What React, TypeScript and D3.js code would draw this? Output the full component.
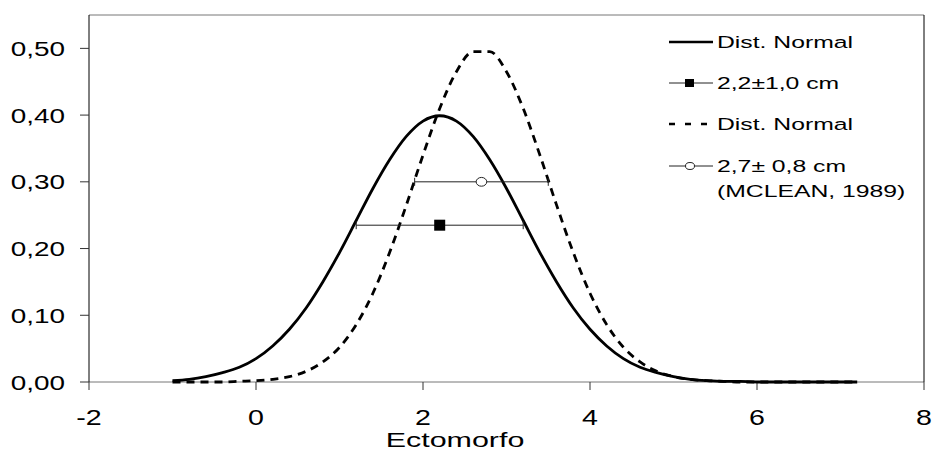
import React, { useRef, useEffect } from 'react';
import * as d3 from 'd3';

// x grid of the fitted curves (Ectomorfo)
const xGrid = [-1.0, -0.8, -0.6, -0.4, -0.2, 0.0, 0.2, 0.4, 0.6, 0.8, 1.0, 1.2, 1.4, 1.6, 1.8, 2.0, 2.2, 2.4, 2.6, 2.8, 3.0,
  3.2, 3.4, 3.6, 3.8, 4.0, 4.2, 4.4, 4.6, 4.8, 5.0, 5.2, 5.4, 5.6, 5.8, 6.0, 6.2, 6.4, 6.6, 6.8, 7.0, 7.2];

// solid curve (2,2 ± 1,0)
const normalSample = [0.002, 0.004, 0.008, 0.014, 0.022, 0.035, 0.054, 0.079, 0.111, 0.150, 0.194, 0.242, 0.290, 0.333,
  0.368, 0.391, 0.399, 0.391, 0.368, 0.333, 0.290, 0.242, 0.194, 0.150, 0.111, 0.079, 0.054, 0.035, 0.022, 0.014, 0.008,
  0.004, 0.002, 0.001, 0.001, 0.000, 0.000, 0.000, 0.000, 0.000, 0.000, 0.000];

// dashed curve (2,7 ± 0,8, McLean 1989)
const normalMclean = [0.000, 0.000, 0.000, 0.000, 0.001, 0.002, 0.004, 0.008, 0.016, 0.030, 0.052, 0.086, 0.133, 0.194,
  0.265, 0.340, 0.410, 0.465, 0.495, 0.495, 0.465, 0.410, 0.340, 0.265, 0.194, 0.133, 0.086, 0.052, 0.030, 0.016, 0.008,
  0.004, 0.002, 0.001, 0.000, 0.000, 0.000, 0.000, 0.000, 0.000, 0.000, 0.000];

// mean ± sd markers
const markerMeans = [2.2, 2.7];
const markerSds = [1.0, 0.8];
const markerLevels = [0.235, 0.30];

const xTicks = [-2, 0, 2, 4, 6, 8];
const yTicks = [0, 0.1, 0.2, 0.3, 0.4, 0.5];
const legendLabels = ['Dist. Normal', '2,2±1,0 cm', 'Dist. Normal', '2,7± 0,8 cm', '(MCLEAN, 1989)'];

const W = 934, H = 452;
const margin = { top: 15, right: 10, bottom: 70, left: 89 };
const FONT = '"Liberation Sans", Arial, sans-serif';

const App = () => {
  const ref = useRef(null);

  useEffect(() => {
    const svg = d3.select(ref.current);
    svg.selectAll('*').remove();

    const x = d3.scaleLinear().domain([-2, 8]).range([margin.left, W - margin.right]);
    const y = d3.scaleLinear().domain([0, 0.55]).range([H - margin.bottom, margin.top]);
    const comma = d3.formatLocale({ decimal: ',', thousands: '.', grouping: [3], currency: ['', ''] });
    const fmt = comma.format('.2f');

    const x0 = x.range()[0], x1 = x.range()[1];
    const yb = y(0), yt = y(0.55);

    // frame
    svg.append('line').attr('x1', x0).attr('x2', x1).attr('y1', yt).attr('y2', yt).attr('stroke', '#777');
    svg.append('line').attr('x1', x0).attr('x2', x1).attr('y1', yb).attr('y2', yb).attr('stroke', '#777');
    svg.append('line').attr('x1', x0).attr('x2', x0).attr('y1', yt).attr('y2', yb).attr('stroke', '#000');
    svg.append('line').attr('x1', x1).attr('x2', x1).attr('y1', yt).attr('y2', yb).attr('stroke', '#000');

    // y ticks
    const yg = svg.append('g');
    yTicks.forEach(t => {
      yg.append('line').attr('x1', x0 - 9).attr('x2', x0).attr('y1', y(t)).attr('y2', y(t)).attr('stroke', '#333');
      yg.append('text')
        .attr('transform', `translate(${x0 - 24},${y(t) + 7.5}) scale(1.33,1)`)
        .attr('text-anchor', 'end')
        .attr('font-size', 21)
        .attr('font-family', FONT)
        .text(fmt(t));
    });

    // x ticks
    const xg = svg.append('g');
    xTicks.forEach(t => {
      xg.append('line').attr('x1', x(t)).attr('x2', x(t)).attr('y1', yb).attr('y2', yb + 8).attr('stroke', '#333');
      xg.append('text')
        .attr('transform', `translate(${x(t)},${yb + 43}) scale(1.3,1)`)
        .attr('text-anchor', 'middle')
        .attr('font-size', 22)
        .attr('font-family', FONT)
        .text(t);
    });

    svg.append('text')
      .attr('transform', `translate(455,447) scale(1.45,1)`)
      .attr('text-anchor', 'middle')
      .attr('font-size', 21)
      .attr('font-family', FONT)
      .text('Ectomorfo');

    // curves
    const line = d3.line().x(d => x(d[0])).y(d => y(d[1])).curve(d3.curveMonotoneX);
    svg.append('path')
      .attr('d', line(xGrid.map((v, i) => [v, normalMclean[i]])))
      .attr('fill', 'none').attr('stroke', '#000').attr('stroke-width', 2.8)
      .attr('stroke-dasharray', '8,6');
    svg.append('path')
      .attr('d', line(xGrid.map((v, i) => [v, normalSample[i]])))
      .attr('fill', 'none').attr('stroke', '#000').attr('stroke-width', 2.8);

    // error bars
    markerMeans.forEach((m, i) => {
      const yy = y(markerLevels[i]);
      const a = x(m - markerSds[i]), b = x(m + markerSds[i]);
      svg.append('line').attr('x1', a).attr('x2', b).attr('y1', yy).attr('y2', yy).attr('stroke', '#222').attr('stroke-width', 1);
      [a, b].forEach(c => {
        svg.append('line').attr('x1', c).attr('x2', c).attr('y1', yy - 4).attr('y2', yy + 4).attr('stroke', '#222');
      });
      if (i === 0) {
        svg.append('rect').attr('x', x(m) - 5.5).attr('y', yy - 5.5).attr('width', 11).attr('height', 11).attr('fill', '#000');
      } else {
        svg.append('ellipse').attr('cx', x(m)).attr('cy', yy).attr('rx', 5.3).attr('ry', 4.4)
          .attr('fill', '#fff').attr('stroke', '#222');
      }
    });

    // legend
    const lg = svg.append('g');
    const lx0 = 669, lx1 = 713, tx = 717;
    const rows = [42, 83, 124, 166, 191];
    const legText = (ty, s) => lg.append('text')
      .attr('transform', `translate(${tx},${ty + 5.5}) scale(1.5,1)`)
      .attr('font-size', 16.5).attr('font-family', FONT).text(s);

    lg.append('line').attr('x1', lx0).attr('x2', lx1).attr('y1', rows[0]).attr('y2', rows[0]).attr('stroke', '#000').attr('stroke-width', 2.5);
    legText(rows[0], legendLabels[0]);

    lg.append('line').attr('x1', lx0).attr('x2', lx1).attr('y1', rows[1]).attr('y2', rows[1]).attr('stroke', '#222');
    lg.append('rect').attr('x', 685).attr('y', rows[1] - 4).attr('width', 9).attr('height', 8).attr('fill', '#000');
    legText(rows[1], legendLabels[1]);

    lg.append('line').attr('x1', lx0).attr('x2', lx1).attr('y1', rows[2]).attr('y2', rows[2]).attr('stroke', '#000')
      .attr('stroke-width', 2.5).attr('stroke-dasharray', '6,10');
    legText(rows[2], legendLabels[2]);

    lg.append('line').attr('x1', lx0).attr('x2', lx1).attr('y1', rows[3]).attr('y2', rows[3]).attr('stroke', '#222');
    lg.append('ellipse').attr('cx', 690).attr('cy', rows[3]).attr('rx', 4.5).attr('ry', 3.5).attr('fill', '#fff').attr('stroke', '#222');
    legText(rows[3], legendLabels[3]);
    legText(rows[4], legendLabels[4]);
  }, []);

  return (
    <svg ref={ref} width={W} height={H} style={{ position: 'absolute', left: 0, top: 0, background: '#fff' }} />
  );
};

export default App;
